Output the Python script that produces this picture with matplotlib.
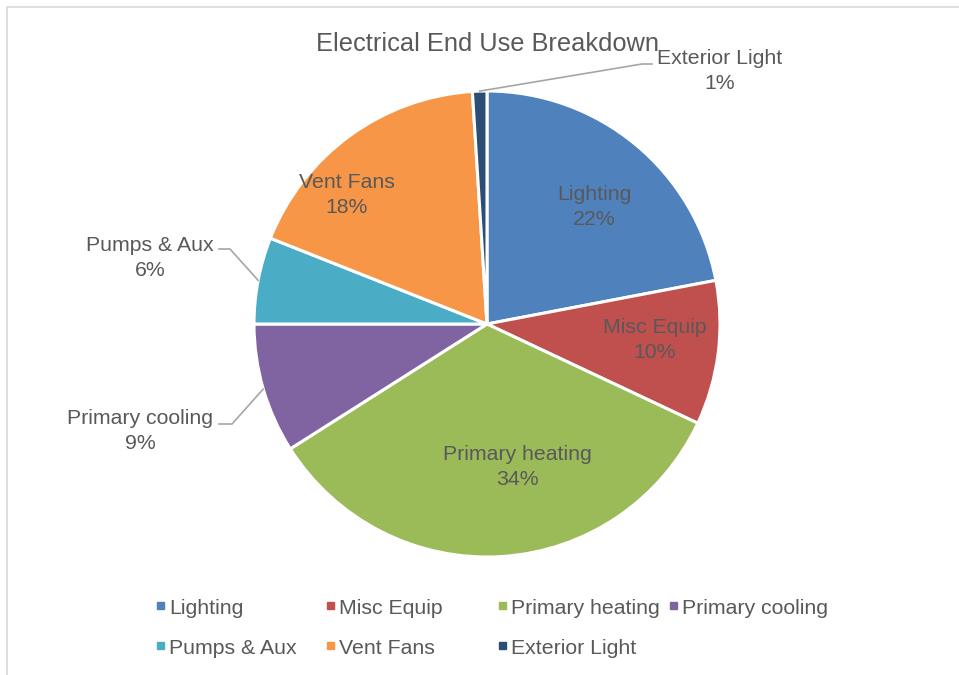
import numpy as np
import matplotlib
matplotlib.use("Agg")
import matplotlib.pyplot as plt
from matplotlib.patches import Rectangle

plt.rcParams['font.family'] = ['Liberation Sans', 'DejaVu Sans']

labels = ["Lighting", "Misc Equip", "Primary heating", "Primary cooling",
          "Pumps & Aux", "Vent Fans", "Exterior Light"]
shares = [22, 10, 34, 9, 6, 18, 1]
colors = ["#4F81BD", "#C0504D", "#9BBB59", "#8064A2",
          "#4BACC6", "#F79646", "#2C4D75"]

W, H = 959, 675
CX, CY, R = 487, 324, 233          # pie centre and radius in pixels
TXT = "#595959"
FS = 15.3

fig = plt.figure(figsize=(W / 100, H / 100), dpi=100)

# pie axes sized so that radius 1 == R pixels
ax = fig.add_axes([(CX - R) / W, (H - CY - R) / H, 2 * R / W, 2 * R / H])
ax.pie(shares, colors=colors, startangle=90, counterclock=False, radius=1,
       wedgeprops=dict(edgecolor="white", linewidth=2.2))
ax.set_xlim(-1, 1)
ax.set_ylim(-1, 1)
ax.set_aspect("equal")
ax.axis("off")

# overlay in pixel coordinates for text, leaders, legend and frame
ov = fig.add_axes([0, 0, 1, 1], facecolor="none", zorder=5)
ov.set_xlim(0, W)
ov.set_ylim(H, 0)
ov.axis("off")

# frame
ov.plot([7, 7, W], [H, 7, 7], color="#D9D9D9", lw=1.2, clip_on=False)

ov.text(487, 44, "Electrical End Use Breakdown", ha="center", va="center",
        fontsize=18.3, color=TXT)

# data labels: (x, y) centre of the label block, optional leader end/elbow
label_pos = {
    "Lighting": (594, 207, None),
    "Misc Equip": (655, 340, None),
    "Primary heating": (517, 467, None),
    "Vent Fans": (347, 195, None),
    "Exterior Light": (720, 71, [(652, 64), (642, 64)]),
    "Pumps & Aux": (150, 258, [(219, 249), (230, 249)]),
    "Primary cooling": (140, 431, [(219, 424), (232, 424)]),
}

cum = np.cumsum([0] + shares[:-1])
for name, s, c0 in zip(labels, shares, cum):
    x, y, leader = label_pos[name]
    ov.text(x, y, f"{name}\n{s}%", ha="center", va="center",
            multialignment="center", fontsize=FS, color=TXT, linespacing=1.35)
    if leader:
        ang = np.deg2rad(90 - (c0 + s / 2) * 3.6)
        px = CX + R * np.cos(ang)
        py = CY - R * np.sin(ang)
        xs = [leader[0][0], leader[1][0], px]
        ys = [leader[0][1], leader[1][1], py]
        ov.plot(xs, ys, color="#A6A6A6", lw=1.2)

# legend
leg_x = [160, 330, 502, 673]
leg_y = [607, 647]
for i, (name, col) in enumerate(zip(labels, colors)):
    lx = leg_x[i % 4]
    ly = leg_y[i // 4]
    ov.add_patch(Rectangle((lx - 3.5, ly - 5), 7, 7, color=col))
    ov.text(lx + 9, ly + 1, name, ha="left", va="center", fontsize=FS, color=TXT)

fig.savefig("out.png", dpi=100)
